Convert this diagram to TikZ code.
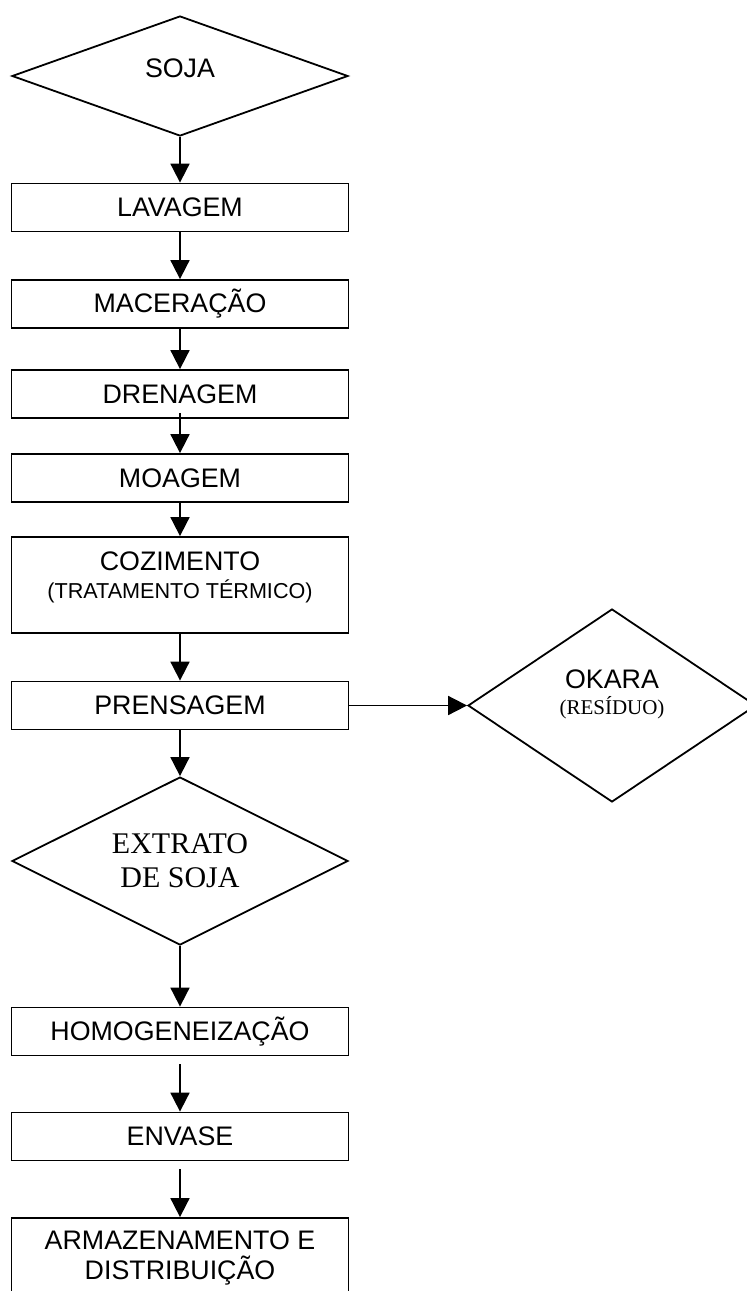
\documentclass[tikz,border=0pt]{standalone}
\usepackage{fontspec}
\setmainfont{Liberation Sans}
\newfontfamily\timesfont{Liberation Serif}
\usetikzlibrary{arrows.meta,positioning,shapes.geometric}

\begin{document}
\begin{tikzpicture}[x=0.5pt, y=-0.5pt, line width=0.9pt,
    every node/.style={font=\fontsize{13.4}{15}\selectfont},
    etapa/.style={draw, rectangle, minimum width=168.5pt, minimum height=24pt, inner sep=0pt, align=center},
    decisao/.style={draw, diamond, aspect=2, inner sep=0pt, align=center},
    miolo/.style={align=center, inner sep=0pt},
    fluxo/.style={-{Triangle[length=9.5pt,width=9.5pt]}}]
    \useasboundingbox (0,0) rectangle (747,1291);
    % entrada
    \node[decisao, minimum width=168pt, minimum height=60pt] (soja) at (180,76) {\raisebox{8pt}{SOJA}};
    % etapas do processo
    \foreach \n/\y/\t in {
      lavagem/207.5/{LAVAGEM},
      maceracao/304/{MACERAÇÃO},
      drenagem/394/{DRENAGEM},
      moagem/478/{MOAGEM},
      prensagem/705.5/{PRENSAGEM},
      homog/1031.5/{HOMOGENEIZAÇÃO},
      envase/1136.5/{ENVASE}}{
      \node[etapa] (\n) at (180,\y) {\t};
    }
    \node[etapa, minimum height=48pt,
      label={[miolo, yshift=3.75pt]center:COZIMENTO\\[-1pt]{\fontsize{10.8}{12}\selectfont (TRATAMENTO TÉRMICO)}}]
      (cozimento) at (180,585) {};
    \node[etapa, minimum height=48pt,
      label={[miolo, yshift=4.25pt]center:ARMAZENAMENTO E\\DISTRIBUIÇÃO}]
      (armazenamento) at (180,1266) {};
    % saidas
    \node[decisao, minimum width=144pt, minimum height=96.5pt,
      label={[miolo, yshift=5.75pt]center:OKARA\\[-2pt]{\timesfont\fontsize{10.5}{12}\selectfont (RESÍDUO)}}]
      (okara) at (612,705.5) {};
    \node[decisao, minimum width=168pt, minimum height=84pt, font=\timesfont\fontsize{15}{17}\selectfont]
      (extrato) at (180,861) {EXTRATO\\DE SOJA};
    % setas
    \draw[fluxo] (soja.south) -- (lavagem.north);
    \draw[fluxo] (lavagem) -- (maceracao);
    \draw[fluxo] (maceracao) -- (drenagem);
    \draw[fluxo] ([yshift=3pt]drenagem.south) -- (moagem.north);
    \draw[fluxo] (moagem) -- (cozimento);
    \draw[fluxo] (cozimento) -- (prensagem);
    \draw[fluxo] (prensagem.east) -- (okara.west);
    \draw[fluxo] (prensagem.south) -- (extrato.north);
    \draw[fluxo] (extrato.south) -- (homog.north);
    \draw[fluxo, shorten <=4pt] (homog) -- (envase);
    \draw[fluxo, shorten <=4pt] (envase) -- (armazenamento);
\end{tikzpicture}
\end{document}
